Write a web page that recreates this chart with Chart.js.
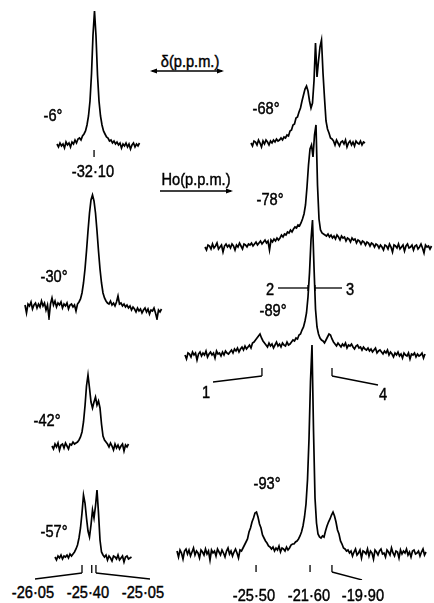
<!DOCTYPE html>
<html><head><meta charset="utf-8">
<script src="https://cdn.jsdelivr.net/npm/chart.js@4/dist/chart.umd.min.js"></script>
<style>
html,body{margin:0;padding:0;background:#fff;width:434px;height:603px;overflow:hidden;}
#wrap{position:relative;width:434px;height:603px;background:#fff;}
canvas.sp{position:absolute;}
.t{position:absolute;font-family:"Liberation Sans",Arial,sans-serif;font-size:17px;color:#000;white-space:nowrap;line-height:1;transform:translate(-50%,-50%) scaleX(0.86);-webkit-text-stroke:0.45px #000;}
svg{position:absolute;left:0;top:0;}
</style></head>
<body><div id="wrap"></div>
<script>
// ---------- data ----------
const temperatures = ['-6°','-30°','-42°','-57°','-68°','-78°','-89°','-93°'];
const shiftLabels_m6 = ['-32·10'];
const shiftLabels_m57 = ['-26·05','-25·40','-25·05'];
const shiftLabels_m93 = ['-25·50','-21·60','-19·90'];
const peakNumbers_m89 = ['1','2','3','4'];
const axisTitles = ['δ(p.p.m.)','Ho(p.p.m.)'];

// intensities (one value per channel)
const spec_m6 = [2,-1,3,0,2,-2,4,1,3,-1,4,2,6,3,7,8,6,10,12,15,21,30,45,72,111,135,110,71,45,30,21,15,12,9,8,5,6,3,5,2,4,1,3,-2,2,0,3,-1,2,-3,1,3,-1,2,0,3];
const spec_m30 = [2,-6,3,1,5,-2,2,4,-1,3,0,6,1,4,-3,2,-11,3,9,2,6,0,4,2,5,-1,3,1,4,-2,2,3,0,2,-4,3,
  5,8,14,24,38,56,76,94,107,112,106,94,76,56,38,24,14,9,6,
  4,3,6,2,4,1,5,11,3,4,1,3,0,2,-1,1,-3,0,-2,-5,-1,-4,-2,-6,-3,-1,-5,-2,-7,-3,-4,-1,-6,-12,-3,-5,-2];
const spec_m42 = [0,-3,2,-1,3,-4,1,2,-2,3,0,-3,2,1,4,2,
  3,4,6,9,14,24,40,60,71,58,44,38,44,49,41,45,38,22,10,6,4,
  2,-1,3,0,-4,2,-2,1,-3,0,2,-5,1,-1,2];
const spec_m57 = [1,-2,2,0,3,-1,2,1,3,0,4,2,4,
  6,9,13,20,30,45,63,55,40,27,21,33,48,40,52,68,45,18,6,3,
  1,3,-2,2,0,-3,2,1,-1,3,-2,0,2,-4,1,2,-1,0,1];
const spec_m68 = [0,-3,2,1,-2,3,0,-4,2,-1,3,1,-2,2,0,3,1,4,2,3,5,3,6,
  5,8,7,12,13,18,19,25,26,31,35,42,48,54,57,52,42,35,40,62,100,66,82,96,103,70,45,22,14,10,5,4,
  2,-2,3,0,-3,1,2,-1,3,-4,0,2,-2,1,-3,2,0,-1,2,-2,1,0];
const spec_m78 = [0,-3,2,1,-2,3,-1,1,4,-2,0,2,-5,1,3,0,2,-1,3,1,-3,2,0,4,1,-2,3,2,0,3,
  2,4,1,3,5,2,4,6,3,5,7,4,6,-3,7,5,8,6,9,7,
  9,12,10,13,12,15,14,17,15,18,20,19,22,21,
  24,28,33,42,60,82,98,102,90,112,122,62,28,17,14,13,12,
  11,13,10,12,9,11,8,12,10,7,11,9,10,6,9,8,5,9,7,8,4,7,6,3,6,5,2,5,4,1,4,3,0,3,2,-1,2,
  0,-3,2,1,-2,3,0,-5,2,1,-1,3,-2,0,2,-4,1,3,-1,0,2,-3,1,2,-2,0,3,-1,-6,2,0,1,-2,1];
const spec_m89 = [0,-4,2,1,-2,3,0,2,-5,1,3,-1,2,0,4,-2,1,3,0,2,-3,4,1,2,-1,3,0,4,2,1,
  3,5,2,6,4,7,3,6,8,5,9,6,8,10,7,
  12,13,15,17,19,21,17,14,12,
  10,8,12,9,11,7,10,13,9,11,8,12,10,9,13,10,11,
  13,15,14,17,16,20,21,25,28,34,42,58,82,115,135,88,46,28,21,17,15,
  14,12,15,18,21,20,16,13,
  11,9,12,10,8,11,9,12,7,10,9,11,8,6,9,10,7,8,5,8,6,
  5,7,4,6,3,5,7,2,4,5,3,1,4,2,5,0,3,1,-2,2,0,3,-1,1,-3,2,0,-1,2,-4,1,0,2,-2,1,-1,0,2,-3,1];
const spec_m93 = [2,-4,3,0,-6,2,4,-1,3,-3,1,5,-2,2,0,-5,3,1,-2,4,-1,2,-7,3,0,2,-3,4,1,-2,3,0,-4,2,5,-1,2,-3,1,4,0,-5,3,2,5,
  8,11,14,21,25,31,35,40,41,36,29,25,18,15,12,10,7,6,
  4,6,2,5,3,7,1,5,4,2,6,3,5,
  8,9,9,11,12,14,17,21,27,36,49,73,114,172,208,123,55,30,19,16,15,
  17,16,22,27,31,34,38,41,37,31,23,19,12,9,5,4,2,3,0,
  2,-3,1,4,-2,0,3,-5,2,1,-1,4,-3,2,0,-6,3,1,-2,2,4,-1,0,-4,3,1,-2,5,0,-3,2,1,-5,3,-1,2,0,4,-2,1,-4,2,3,-1,0,2,-3,1,4,-2,1];

// channel positions of the marked shifts
const tickCh_m6 = [24.7];
const tickCh_m57 = [18, 24.5, 27.3];
const tickCh_m89 = [51.3, 98];
const tickCh_m93 = [52.7, 88.7, 103.3];

// ---------- layout ----------
const STEP = 1.5;
const panels = [
  {values: spec_m6,  box:[50,5,100,160],   x0:57,  base:146, ticks:tickCh_m6,  tv:[-4,-11], leaders:[]},
  {values: spec_m30, box:[20,185,150,135], x0:25,  base:307, ticks:[], tv:[0,0], leaders:[]},
  {values: spec_m42, box:[45,365,90,90],   x0:52,  base:446, ticks:[], tv:[0,0], leaders:[]},
  {values: spec_m57, box:[28,480,130,100], x0:55,  base:558, ticks:tickCh_m57, tv:[-7,-15], leaders:[[0,35,579],[2,150,579]]},
  {values: spec_m68, box:[245,30,125,125], x0:251, base:143, ticks:[], tv:[0,0], leaders:[]},
  {values: spec_m78, box:[200,115,234,145],x0:205, base:247, ticks:[], tv:[0,0], leaders:[]},
  {values: spec_m89, box:[180,210,254,190],x0:185, base:355, ticks:tickCh_m89, tv:[-13,-21], leaders:[[0,213,382],[1,378,385]]},
  {values: spec_m93, box:[172,335,262,245],x0:177, base:553, ticks:tickCh_m93, tv:[-12,-19], leaders:[[2,362,580]]}
];
const tempPos = [[53,115],[54,276],[47,420],[54,531],[266,108],[270,199],[273,310],[267,483]];

const wrap = document.getElementById('wrap');

const annoPlugin = {
  id: 'anno',
  afterDatasetsDraw(chart) {
    const p = chart.options.plugins.anno;
    if (!p) return;
    const ctx = chart.ctx, xs = chart.scales.x, ys = chart.scales.y;
    ctx.save();
    ctx.strokeStyle = '#000'; ctx.lineWidth = 1.3; ctx.lineCap = 'butt';
    const bottoms = [];
    p.ticks.forEach(ch => {
      const x = xs.getPixelForValue(ch);
      const y1 = ys.getPixelForValue(p.tv[0]), y2 = ys.getPixelForValue(p.tv[1]);
      ctx.beginPath(); ctx.moveTo(x, y1); ctx.lineTo(x, y2); ctx.stroke();
      bottoms.push([x, y2]);
    });
    p.leaders.forEach(l => {
      const b = bottoms[l[0]];
      ctx.beginPath(); ctx.moveTo(b[0], b[1]);
      ctx.lineTo(l[1] - p.box[0], l[2] - p.box[1]); ctx.stroke();
    });
    ctx.restore();
  }
};

panels.forEach(p => {
  const c = document.createElement('canvas');
  c.className = 'sp';
  c.width = p.box[2]; c.height = p.box[3];
  c.style.left = p.box[0] + 'px'; c.style.top = p.box[1] + 'px';
  c.style.width = p.box[2] + 'px'; c.style.height = p.box[3] + 'px';
  wrap.appendChild(c);
  const xmin = (p.box[0] - p.x0) / STEP, xmax = (p.box[0] + p.box[2] - p.x0) / STEP;
  const ymax = p.base - p.box[1], ymin = p.base - (p.box[1] + p.box[3]);
  new Chart(c, {
    type: 'line',
    data: { datasets: [{ data: p.values.map((v, i) => ({x: i, y: v})), borderColor: '#000',
      borderWidth: 1.7, pointRadius: 0, tension: 0, fill: false, borderJoinStyle: 'miter' }] },
    options: {
      responsive: false, animation: false, devicePixelRatio: 1, events: [],
      layout: { padding: 0 },
      plugins: { legend: {display: false}, tooltip: {enabled: false},
        anno: { ticks: p.ticks.map(ch => ch * 1), tv: p.tv, leaders: p.leaders, box: p.box } },
      scales: {
        x: { type: 'linear', min: xmin, max: xmax, display: false },
        y: { type: 'linear', min: ymin, max: ymax, display: false }
      }
    },
    plugins: [annoPlugin]
  });
});

function label(text, x, y) {
  const d = document.createElement('div');
  d.className = 't'; d.textContent = text;
  d.style.left = x + 'px'; d.style.top = y + 'px';
  wrap.appendChild(d);
}
temperatures.forEach((t, i) => label(t, tempPos[i][0], tempPos[i][1]));
label(shiftLabels_m6[0], 93, 171);
[[33,592],[88,592],[143,592]].forEach((q, i) => label(shiftLabels_m57[i], q[0], q[1]));
[[254,595],[309,595],[363,595]].forEach((q, i) => label(shiftLabels_m93[i], q[0], q[1]));
[[206,392],[270,289],[350,289],[383,394]].forEach((q, i) => label(peakNumbers_m89[i], q[0], q[1]));
label(axisTitles[0], 190, 61);
label(axisTitles[1], 196, 179);

// arrows and the 2/3 pointers
const svgNS = 'http://www.w3.org/2000/svg';
const svg = document.createElementNS(svgNS, 'svg');
svg.setAttribute('width', 434); svg.setAttribute('height', 603);
svg.innerHTML =
  '<g stroke="#000" stroke-width="1.3" fill="none">' +
  '<line x1="152" y1="71" x2="222" y2="71"/>' +
  '<line x1="160" y1="191" x2="231" y2="191"/>' +
  '<line x1="278" y1="288" x2="308" y2="288"/>' +
  '<line x1="315" y1="288" x2="342" y2="288"/>' +
  '<line x1="308" y1="285" x2="308" y2="291"/>' +
  '<line x1="315" y1="285" x2="315" y2="291"/>' +
  '</g><g fill="#000">' +
  '<path d="M150,71 L157,68.5 L157,73.5 Z"/>' +
  '<path d="M224,71 L217,68.5 L217,73.5 Z"/>' +
  '<path d="M233,191 L226,188.5 L226,193.5 Z"/>' +
  '</g>';
wrap.appendChild(svg);
</script>
</body></html>
